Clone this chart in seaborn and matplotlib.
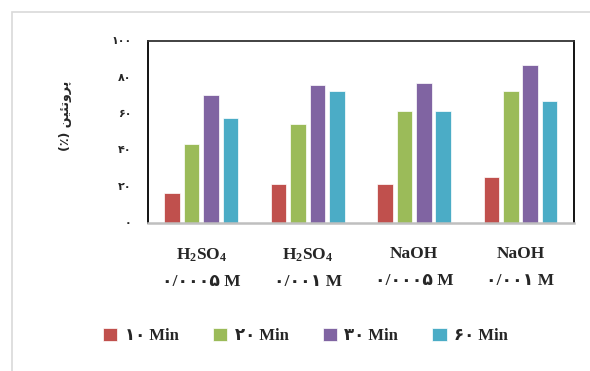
import matplotlib
matplotlib.use("Agg")
import matplotlib.pyplot as plt
import seaborn as sns
import pandas as pd
from matplotlib.patches import Rectangle

# ---- data ----
categories = ["H$_2$SO$_4$\n۰/۰۰۰۵ M", "H$_2$SO$_4$\n۰/۰۰۱ M",
              "NaOH\n۰/۰۰۰۵ M", "NaOH\n۰/۰۰۱ M"]
series_names = ["۱۰ Min", "۲۰ Min", "۳۰ Min", "۶۰ Min"]
v10 = [16.4, 21.4, 21.4, 25.2]
v20 = [43.5, 54.3, 61.7, 72.2]
v30 = [70.5, 75.9, 77.0, 86.6]
v60 = [57.8, 72.2, 61.3, 67.0]
ytick_values = [0, 20, 40, 60, 80, 100]
ytick_labels = ["۰", "۲۰", "۴۰", "۶۰", "۸۰", "۱۰۰"]
# "پروتئین (٪)" written in visual order with Arabic presentation forms
ylabel = "(٪) " + "\uFEE6\uFBFF\uFE8C\uFE97\uFEED\uFEAE\uFB58"
colors = ["#C0504D", "#9BBB59", "#8064A2", "#4BACC6"]

rows = []
for name, vals in zip(series_names, [v10, v20, v30, v60]):
    for c, v in zip(categories, vals):
        rows.append({"cat": c, "val": v, "time": name})
df = pd.DataFrame(rows)

sns.set_style("white")
plt.rcParams['font.family'] = ['Liberation Serif', 'DejaVu Sans']
plt.rcParams['font.weight'] = 'bold'
plt.rcParams['mathtext.fontset'] = 'custom'
plt.rcParams['mathtext.rm'] = 'Liberation Serif:bold'
plt.rcParams['mathtext.it'] = 'Liberation Serif:bold'
plt.rcParams['mathtext.bf'] = 'Liberation Serif:bold'

fig = plt.figure(figsize=(5.9, 3.71), dpi=100)
ax = fig.add_axes([148/590, 1-222.5/371, (573.7-148)/590, (222.5-41)/371])

sns.barplot(data=df, x="cat", y="val", hue="time", palette=colors,
            width=0.73, gap=0.2, ax=ax, legend=True, saturation=1,
            edgecolor="white", linewidth=0.5)

ax.set_ylim(0, 100)
ax.set_xlim(-0.5, 3.5)
ax.set_yticks(ytick_values)
ax.set_yticklabels(ytick_labels, family=['Liberation Serif', 'DejaVu Sans'],
                   fontsize=8, fontweight='bold')
ax.tick_params(axis='y', length=0, pad=12)
ax.tick_params(axis='x', length=0, pad=17)
for lbl in ax.get_xticklabels():
    lbl.set_fontsize(12.5)
    lbl.set_fontweight('bold')
    lbl.set_linespacing(1.9)
ax.set_xlabel("")
ax.set_ylabel(ylabel, family=['DejaVu Sans'], fontsize=9, fontweight='bold')
ax.yaxis.set_label_coords(-0.178, 0.59)

for s in ['left', 'top', 'right']:
    ax.spines[s].set_color('black')
    ax.spines[s].set_linewidth(1.3)
ax.spines['top'].set_color('#333333')
ax.spines['bottom'].set_color('#BFBFBF')
ax.spines['bottom'].set_linewidth(1.8)

handles, labels = ax.get_legend_handles_labels()
ax.legend_.remove()
fig.legend(handles, labels, loc='center', bbox_to_anchor=(0.518, 0.094),
           ncol=4, frameon=False,
           prop={'family': ['Liberation Serif', 'DejaVu Sans'], 'weight': 'bold', 'size': 12},
           handlelength=0.85, handleheight=0.85, handletextpad=0.45,
           columnspacing=2.05)

fig.patches.append(Rectangle((12/590, -0.1), 1.2, 1-12/371+0.1,
                             transform=fig.transFigure, fill=False,
                             edgecolor='#D9D9D9', linewidth=1.2))

fig.savefig("out.png", dpi=100)
